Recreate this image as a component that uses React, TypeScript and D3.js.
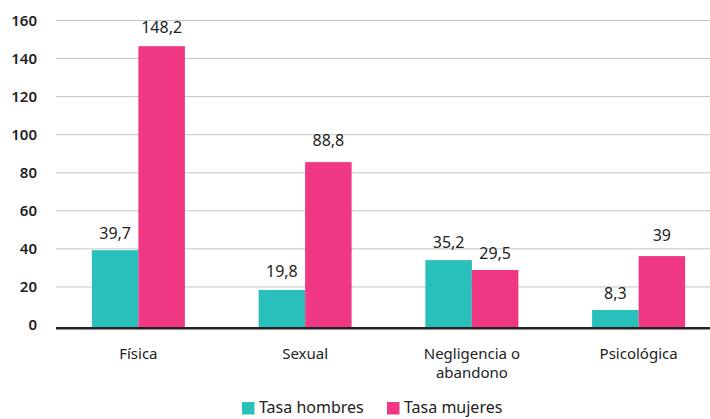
import React from 'react';
import * as d3 from 'd3';

const categories = ['Física', 'Sexual', 'Negligencia o abandono', 'Psicológica'];
const categoryLines = [['Física'], ['Sexual'], ['Negligencia o', 'abandono'], ['Psicológica']];
// bar heights as drawn in the picture
const barHombres = [39.3, 18.4, 34.1, 7.9];
const barMujeres = [146.5, 85.6, 28.9, 36.2];
// printed value labels
const labelHombres = [39.7, 19.8, 35.2, 8.3];
const labelMujeres = [148.2, 88.8, 29.5, 39];
const yTicks = [0, 20, 40, 60, 80, 100, 120, 140, 160];
const seriesNames = ['Tasa hombres', 'Tasa mujeres'];
const colors = ['#29bfba', '#ef3784'];

const W = 710;
const H = 419;
const FONT = '"Noto Sans", sans-serif';

export default function App() {
  const x = d3.scaleBand<string>().domain(categories).range([55, 722]).paddingInner(0).paddingOuter(0);
  const y = d3.scaleLinear().domain([0, 160]).range([325, 20.5]);
  const barW = 46.5;
  const fmt = (v: number) => String(v).replace('.', ',');

  const series = [
    { bars: barHombres, labels: labelHombres, color: colors[0], off: -barW },
    { bars: barMujeres, labels: labelMujeres, color: colors[1], off: 0 },
  ];

  return (
    <div style={{ position: 'absolute', left: 0, top: 0 }}>
      <svg width={W} height={H} style={{ display: 'block', fontFamily: FONT }}>
        <rect width={W} height={H} fill="#fff" />
        {yTicks.map(t => (
          <g key={t}>
            {t > 0 && <line x1={56} x2={W} y1={y(t)} y2={y(t)} stroke="#c4c4c4" strokeWidth={1} />}
            <text x={37} y={y(t)} dy="0.35em" textAnchor="end" fontSize={15} fontWeight={600} fill="#222">{t}</text>
          </g>
        ))}
        {series.map((s, si) => categories.map((c, i) => {
          const cx = x(c)! + x.bandwidth() / 2;
          return (
            <g key={si + '-' + c}>
              <rect x={cx + s.off} y={y(s.bars[i])} width={barW} height={y(0) - y(s.bars[i]) + 2} fill={s.color} />
              <text x={cx + s.off + barW / 2} y={y(s.labels[i]) - 10} textAnchor="middle" fontSize={16} fill="#222">{fmt(s.labels[i])}</text>
            </g>
          );
        }))}
        <line x1={56} x2={W} y1={328.3} y2={328.3} stroke="#222" strokeWidth={2.5} />
        {categories.map((c, i) => {
          const cx = x(c)! + x.bandwidth() / 2;
          return (
            <text key={c} x={cx} y={358.5} textAnchor="middle" fontSize={15} fill="#222">
              {categoryLines[i].map((l, j) => (
                <tspan key={j} x={cx} dy={j === 0 ? 0 : 19}>{l}</tspan>
              ))}
            </text>
          );
        })}
        {seriesNames.map((n, i) => {
          const lx = i === 0 ? 242 : 387;
          return (
            <g key={n}>
              <rect x={lx} y={402} width={12.5} height={12.5} fill={colors[i]} />
              <text x={lx + 17} y={413} fontSize={16} fill="#222">{n}</text>
            </g>
          );
        })}
      </svg>
    </div>
  );
}
